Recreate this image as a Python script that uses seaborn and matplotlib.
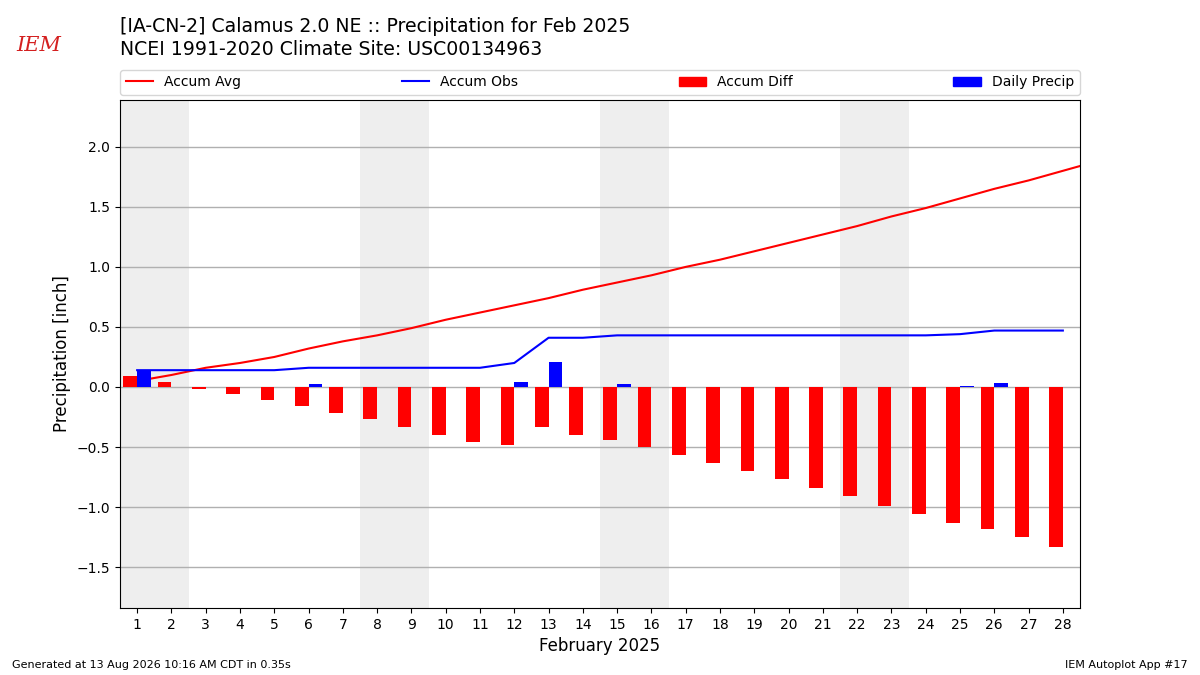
import numpy as np
import pandas as pd
import matplotlib
matplotlib.use("Agg")
import matplotlib.pyplot as plt
from matplotlib.lines import Line2D
from matplotlib.patches import Patch
import seaborn as sns

# valores (polegadas), fevereiro 2025
dias = list(range(1, 29))
accum_avg = [0.05, 0.10, 0.16, 0.20, 0.25, 0.32, 0.38, 0.43, 0.49, 0.56,
             0.62, 0.68, 0.74, 0.81, 0.87, 0.93, 1.00, 1.06, 1.13, 1.20,
             1.27, 1.34, 1.42, 1.49, 1.57, 1.65, 1.72, 1.80, 1.88]
accum_obs = [0.14, 0.14, 0.14, 0.14, 0.14, 0.16, 0.16, 0.16, 0.16, 0.16,
             0.16, 0.20, 0.41, 0.41, 0.43, 0.43, 0.43, 0.43, 0.43, 0.43,
             0.43, 0.43, 0.43, 0.43, 0.44, 0.47, 0.47, 0.47]
accum_diff = [0.09, 0.04, -0.02, -0.06, -0.11, -0.16, -0.22, -0.27, -0.33, -0.40,
              -0.46, -0.48, -0.33, -0.40, -0.44, -0.50, -0.57, -0.63, -0.70, -0.77,
              -0.84, -0.91, -0.99, -1.06, -1.13, -1.18, -1.25, -1.33]
daily_precip = [0.14, 0.0, 0.0, 0.0, 0.0, 0.025, 0.0, 0.0, 0.0, 0.0,
                0.0, 0.04, 0.21, 0.0, 0.025, 0.0, 0.0, 0.0, 0.0, 0.0,
                0.0, 0.0, 0.0, 0.0, 0.01, 0.03, 0.0, 0.0]

titulo = "[IA-CN-2] Calamus 2.0 NE :: Precipitation for Feb 2025\nNCEI 1991-2020 Climate Site: USC00134963"
rodape_esq = "Generated at 13 Aug 2026 10:16 AM CDT in 0.35s"
rodape_dir = "IEM Autoplot App #17"

datas = pd.date_range("2025-02-01", periods=len(dias), freq="D")
fim_semana = [d.day for d in datas if d.weekday() >= 5]

barras = pd.DataFrame({
    "dia": dias * 2,
    "valor": accum_diff + daily_precip,
    "tipo": ["Accum Diff"] * len(dias) + ["Daily Precip"] * len(dias),
})

fig = plt.figure(figsize=(12, 6.75), dpi=100)
ax = fig.add_axes([0.1, 0.0993, 0.8, 0.7526])

for d in fim_semana:
    ax.axvspan(d - 0.5, d + 0.5, color="#EEEEEE", zorder=0, lw=0)

ax.grid(axis="y", color="#b0b0b0", lw=1, zorder=1)
ax.set_axisbelow(True)

sns.lineplot(x=np.arange(1, len(accum_avg) + 1), y=accum_avg, color="red", lw=1.5, ax=ax, zorder=2)
sns.lineplot(x=dias, y=accum_obs, color="blue", lw=1.5, ax=ax, zorder=2)
sns.barplot(data=barras, x="dia", y="valor", hue="tipo", native_scale=True,
            palette={"Accum Diff": "red", "Daily Precip": "blue"},
            saturation=1, errorbar=None, width=0.8, dodge=True, ax=ax, zorder=3,
            legend=False)

ax.set_xlim(0.5, 28.5)
ax.set_ylim(-1.84, 2.39)
ax.set_xticks(dias)
ax.set_xticklabels([str(d) for d in dias])
ax.set_yticks([-1.5, -1.0, -0.5, 0.0, 0.5, 1.0, 1.5, 2.0])
ax.set_yticklabels(["\u22121.5", "\u22121.0", "\u22120.5", "0.0", "0.5", "1.0", "1.5", "2.0"])
ax.tick_params(labelsize=10)
ax.set_xlabel("February 2025", fontsize=12)
ax.set_ylabel("Precipitation [inch]", fontsize=12)

handles = [Line2D([], [], color="red", lw=1.5), Line2D([], [], color="blue", lw=1.5),
           Patch(color="red"), Patch(color="blue")]
labels = ["Accum Avg", "Accum Obs", "Accum Diff", "Daily Precip"]
ax.legend(handles, labels, ncol=4, mode="expand", loc="lower left",
          bbox_to_anchor=(0, 1.01, 1, 0.05), fontsize=10, borderaxespad=0)

fig.text(0.1, 0.975, titulo, fontsize=13.6, va="top", ha="left", linespacing=1.3)
fig.text(0.032, 0.932, "IEM", fontsize=15, color="#d42020", family="serif",
         style="italic", va="center", ha="center")
fig.text(0.01, 0.015, rodape_esq, fontsize=8, ha="left", va="center")
fig.text(0.99, 0.015, rodape_dir, fontsize=8, ha="right", va="center")

fig.savefig("out.png", dpi=100)
